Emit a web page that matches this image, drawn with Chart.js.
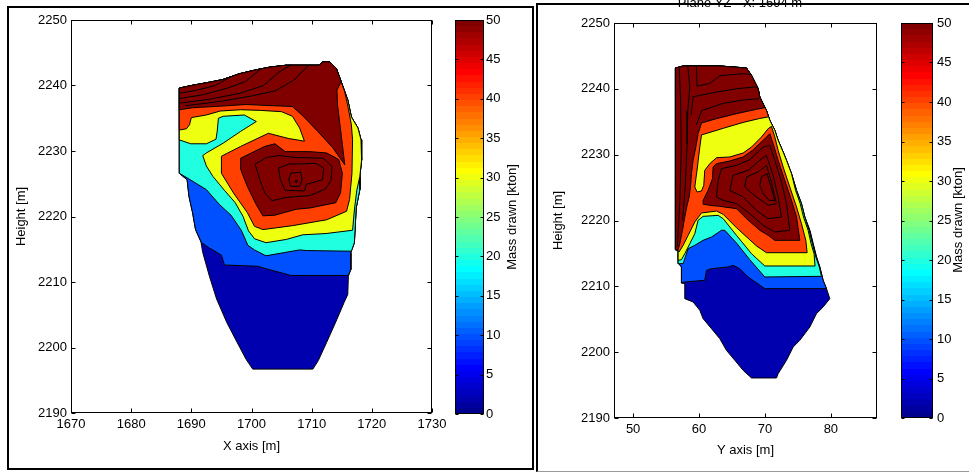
<!DOCTYPE html>
<html><head><meta charset="utf-8">
<script src="https://cdn.jsdelivr.net/npm/chart.js@4.4.1/dist/chart.umd.min.js"></script>
<style>
html,body{margin:0;padding:0;background:#fff;width:969px;height:472px;overflow:hidden;position:relative;}
canvas{position:absolute;top:0;}
.frame{position:absolute;box-sizing:border-box;}
</style></head><body>
<div class="frame" style="left:7px;top:6px;width:527px;height:464px;border:2px solid #000;"></div>
<div class="frame" style="left:536px;top:3px;width:460px;height:469px;border-left:2px solid #000;border-top:2px solid #000;border-bottom:1px solid #999;"></div>
<canvas id="mainL" width="452" height="472" style="left:0px"></canvas>
<canvas id="cbL" width="100" height="472" style="left:440px"></canvas>
<canvas id="mainR" width="370" height="472" style="left:530px"></canvas>
<canvas id="cbR" width="89" height="472" style="left:880px"></canvas>
<script>
// ---------- axis values ----------
const xTicksLeft = [1670,1680,1690,1700,1710,1720,1730];
const xTicksRight = [50,60,70,80];
const yTicks = [2190,2200,2210,2220,2230,2240,2250];
const cbTicks = [0,5,10,15,20,25,30,35,40,45,50];
const xRangeLeft = [1670,1730];
const xRangeRight = [47.1,87.0];
const yRange = [2190,2250];
const cbRange = [0,50];
const contourLevels = [2,10,20,30,40,50,60,70,80,90];
const rightTitle = 'Plane YZ - X: 1694 m';

// ---------- left section (X-Z), contour regions: value >= level ----------
const leftTopEdge = [[1688.0,2239.6],[1690.0,2240.0],[1693.0,2240.5],[1695.2,2240.9],[1698.0,2241.8],[1700.8,2242.4],[1703.0,2242.8],[1705.8,2243.1],[1711.3,2243.1],[1711.8,2243.6],[1713.0,2243.6],[1714.1,2242.6],[1714.9,2240.6]];
const leftRightEdge = [[1716.0,2237.8],[1716.6,2235.2],[1717.7,2233.5],[1718.2,2231.7],[1718.3,2228.6],[1718.0,2226.1]];
const leftLevel0 = [...leftTopEdge, ...leftRightEdge, [1718.0,2224.1],[1717.4,2221.3],[1717.1,2216.0],[1716.5,2214.5],[1716.5,2211.9],[1716.1,2210.9],[1716.0,2208.1],[1715.4,2206.9],[1714.2,2204.3],[1712.5,2200.8],[1711.1,2198.0],[1710.2,2196.7],[1700.2,2196.7],[1699.1,2198.2],[1697.6,2200.8],[1695.9,2203.8],[1694.2,2207.4],[1693.0,2210.9],[1691.9,2214.5],[1691.6,2216.1],[1690.7,2218.0],[1690.2,2220.6],[1689.6,2223.1],[1689.3,2225.6],[1688.0,2226.6]];
const leftLevel10 = [[1691.7,2216.0],[1690.7,2218.0],[1690.2,2220.6],[1689.6,2223.1],[1689.3,2225.6],[1688.0,2226.6], ...leftTopEdge, ...leftRightEdge, [1718.0,2224.1],[1717.4,2221.3],[1717.1,2216.0],[1716.5,2214.5],[1716.5,2211.9],[1716.1,2211.0],[1706.6,2211.0],[1702.5,2212.0],[1701.0,2212.4],[1695.5,2212.6],[1695.0,2214.1],[1693.0,2215.2]];
const leftLevel20 = [[1688.0,2226.6], ...leftTopEdge, ...leftRightEdge, [1718.0,2224.1],[1717.4,2221.3],[1717.1,2216.0],[1716.6,2214.7],[1709.1,2214.8],[1708.0,2214.9],[1702.4,2214.0],[1700.5,2214.9],[1699.4,2215.6],[1698.3,2217.9],[1696.6,2220.2],[1694.7,2221.8],[1692.5,2224.1],[1689.3,2225.9]];
const leftLevel30 = [[1688.0,2231.7], ...leftTopEdge, ...leftRightEdge, [1717.5,2224.0],[1717.1,2221.0],[1716.8,2217.9],[1712.4,2217.4],[1708.5,2217.2],[1705.8,2216.5],[1702.4,2216.0],[1700.5,2216.6],[1699.5,2217.8],[1698.6,2220.0],[1697.3,2222.1],[1695.5,2224.0],[1693.6,2226.1],[1692.5,2227.7],[1691.9,2229.3],[1692.5,2229.7],[1695.3,2231.2],[1698.2,2233.0],[1700.8,2234.5],[1698.8,2235.5],[1695.3,2235.3],[1694.5,2235.0],[1694.3,2233.0],[1694.1,2231.8],[1692.5,2231.1],[1689.9,2231.1]];
const leftLevel40 = [[1688.0,2233.2], ...leftTopEdge, [1715.5,2239.0],[1716.1,2236.5],[1716.6,2234.0],[1716.8,2231.7],[1716.7,2226.6],[1716.3,2222.6],[1715.8,2220.8],[1712.5,2219.5],[1706.8,2218.6],[1701.9,2218.0],[1700.5,2218.5],[1699.3,2220.6],[1697.0,2223.6],[1695.0,2226.6],[1695.0,2229.2],[1698.2,2230.7],[1702.8,2232.7],[1706.2,2231.9],[1708.8,2231.5],[1708.0,2233.5],[1706.8,2235.3],[1705.0,2236.0],[1701.5,2236.2],[1698.2,2236.3],[1694.8,2236.1],[1692.5,2235.5],[1690.0,2235.1],[1689.7,2234.0],[1689.2,2233.4]];
const leftLevel50Top = [[1688.0,2236.3], ...leftTopEdge, [1714.2,2239.3],[1714.3,2237.0],[1714.7,2234.0],[1715.1,2231.0],[1715.5,2227.9],[1713.5,2230.5],[1711.0,2233.0],[1708.6,2235.3],[1706.8,2236.8],[1703.9,2236.9],[1699.1,2237.1],[1695.8,2236.9],[1690.2,2236.6]];
const leftLevel50Core = [[1698.2,2228.9],[1702.2,2230.7],[1703.9,2231.1],[1705.6,2229.9],[1709.7,2229.9],[1712.5,2229.7],[1714.5,2228.7],[1715.1,2226.6],[1714.8,2223.6],[1714.0,2222.1],[1709.7,2221.3],[1707.4,2221.1],[1703.9,2220.2],[1701.9,2220.1],[1700.8,2221.8],[1699.3,2224.6],[1698.2,2227.2]];
const leftLevel60 = [[1700.6,2228.0],[1702.5,2229.0],[1704.5,2229.3],[1707.4,2229.0],[1712.0,2228.9],[1713.4,2227.6],[1713.2,2225.5],[1712.3,2224.2],[1709.7,2223.2],[1705.6,2222.9],[1703.4,2222.4],[1702.2,2223.6],[1701.4,2225.6]];
const leftLevel70 = [[1704.5,2227.4],[1706.2,2228.0],[1710.8,2228.1],[1712.0,2227.4],[1711.8,2225.6],[1709.1,2224.9],[1708.8,2223.9],[1705.6,2224.0],[1704.8,2225.6]];
const leftLevel80 = [[1706.5,2226.6],[1708.2,2226.8],[1708.4,2225.6],[1708.0,2224.6],[1706.5,2224.6],[1706.2,2225.6]];
const leftLevel90 = [[1707.2,2225.4],[1707.6,2225.5],[1707.5,2225.1]];
const leftLine60 = [[1688.0,2238.8],[1691.0,2239.3],[1694.0,2240.0],[1696.5,2241.3]];
const leftLine70 = [[1688.0,2238.0],[1692.0,2238.6],[1696.0,2239.6],[1699.0,2240.6],[1701.5,2242.5]];
const leftLine80 = [[1688.0,2237.3],[1693.0,2237.9],[1698.0,2238.8],[1702.0,2240.0],[1704.5,2242.0],[1706.5,2243.1]];
const leftLine90 = [[1689.0,2236.9],[1695.0,2237.6],[1700.0,2238.4],[1704.0,2239.2],[1707.0,2240.8],[1709.5,2243.1]];

// ---------- right section (Y-Z) ----------
const rightTopEdge = [[56.42,2243.16],[57.59,2243.47],[63.15,2243.47],[67.20,2243.16],[67.96,2242.05],[68.97,2240.03],[69.22,2238.76]];
const rightUpperEdge = [[70.23,2236.73],[70.74,2235.22],[71.50,2233.70],[72.00,2232.18],[72.76,2230.41],[73.27,2229.14],[74.03,2227.11]];
const rightLevel0 = [...rightTopEdge, ...rightUpperEdge, [74.79,2224.58],[75.54,2222.56],[76.05,2220.53],[76.81,2218.51],[77.31,2216.48],[77.82,2214.46],[78.33,2212.94],[78.83,2210.91],[79.34,2209.65],[79.84,2208.13],[78.83,2206.86],[77.82,2205.85],[76.81,2203.82],[76.05,2202.81],[75.29,2201.80],[74.28,2200.78],[73.27,2198.76],[72.00,2196.73],[71.75,2196.08],[67.96,2196.08],[66.69,2197.24],[65.43,2198.76],[64.16,2200.28],[63.15,2202.05],[61.89,2203.57],[60.62,2205.09],[60.12,2206.35],[59.10,2207.62],[57.84,2208.13],[57.84,2210.41],[57.33,2210.51],[57.33,2212.94],[56.93,2213.44],[56.83,2215.47],[56.42,2215.57]];
const rightLevel10 = [[57.33,2210.51],[57.33,2212.94],[56.93,2213.44],[56.83,2215.47],[56.42,2215.57], ...rightTopEdge, ...rightUpperEdge, [74.79,2224.58],[75.54,2222.56],[76.05,2220.53],[76.81,2218.51],[77.31,2216.48],[77.82,2214.46],[78.33,2212.94],[78.83,2210.91],[79.34,2209.65],[69.98,2209.65],[67.45,2211.42],[66.19,2212.68],[65.17,2213.19],[64.42,2212.94],[61.89,2212.68],[61.13,2212.43],[60.87,2210.91],[57.84,2210.66]];
const rightLevel20 = [[56.93,2213.44],[56.83,2215.47],[56.42,2215.57], ...rightTopEdge, ...rightUpperEdge, [74.79,2224.58],[75.54,2222.56],[76.05,2220.53],[76.70,2218.51],[77.20,2216.48],[77.72,2214.46],[78.25,2212.94],[78.58,2211.52],[69.98,2211.42],[67.70,2214.05],[65.68,2216.58],[63.91,2218.51],[63.40,2218.51],[61.89,2217.49],[60.62,2216.99],[59.36,2216.23],[58.35,2215.72],[57.59,2213.44]];
const rightLevel30 = [[56.88,2213.95],[56.83,2215.47],[56.42,2215.57], ...rightTopEdge, ...rightUpperEdge, [74.65,2224.58],[75.35,2222.56],[75.85,2220.53],[76.55,2218.51],[77.00,2216.48],[77.45,2214.96],[77.60,2213.09],[69.98,2213.09],[67.96,2214.96],[65.68,2217.75],[63.66,2220.28],[62.90,2220.78],[60.62,2220.63],[59.86,2220.03],[59.36,2218.00],[58.60,2216.48],[57.84,2214.96],[57.33,2214.05]];
const rightLevel40 = [[56.98,2215.22],[56.83,2215.47],[56.42,2215.57], ...rightTopEdge, [70.23,2236.73],[70.55,2235.75],[69.22,2235.5],[66.69,2234.9],[63.66,2234.0],[60.37,2233.0],[60.12,2231.16],[59.76,2228.13],[59.36,2225.09],[59.71,2224.33],[60.37,2224.48],[60.72,2225.34],[60.87,2227.62],[61.63,2228.63],[62.65,2229.54],[64.67,2229.65],[66.69,2230.25],[67.96,2231.16],[69.47,2232.68],[70.49,2233.95],[70.99,2234.30],[71.50,2232.68],[72.00,2230.66],[72.76,2228.13],[73.77,2225.09],[74.79,2222.05],[75.54,2219.52],[76.20,2216.99],[76.40,2215.11],[70.23,2215.11],[68.72,2216.13],[65.68,2218.91],[63.66,2220.94],[62.65,2221.44],[60.37,2221.14],[59.36,2219.77],[58.35,2217.75],[57.59,2216.23]];
const rightLevel50Left = [[56.42,2215.57], ...rightTopEdge, [69.98,2237.14],[68.72,2236.89],[65.68,2236.23],[62.65,2235.47],[60.37,2234.81],[59.86,2233.19],[59.51,2231.16],[59.10,2229.14],[58.85,2227.11],[58.70,2225.09],[58.50,2223.57],[58.19,2222.30],[57.84,2220.53],[57.49,2218.51],[57.08,2216.48],[56.83,2215.57]];
const rightLevel50Core = [[62.65,2228.63],[64.67,2229.04],[66.69,2229.65],[68.11,2230.66],[69.73,2232.18],[70.74,2233.19],[71.24,2231.67],[72.00,2229.14],[73.01,2226.10],[74.03,2223.06],[74.79,2220.53],[75.29,2216.99],[71.50,2216.99],[70.49,2217.75],[69.22,2218.51],[67.20,2220.28],[65.68,2221.80],[63.15,2222.15],[61.63,2222.30],[60.72,2222.46],[60.62,2223.06],[61.38,2224.58],[62.04,2226.35],[62.14,2228.13]];
const rightLevel60 = [[62.65,2223.57],[62.90,2226.10],[63.40,2227.87],[65.68,2228.38],[67.70,2229.24],[69.73,2231.16],[70.74,2231.42],[71.50,2229.14],[72.51,2225.85],[73.27,2222.56],[73.77,2218.51],[71.50,2218.25],[69.73,2219.27],[67.70,2221.04],[65.68,2222.56],[63.66,2223.06]];
const rightLevel70 = [[64.67,2224.58],[65.17,2226.86],[67.45,2227.62],[69.22,2229.14],[70.23,2229.90],[71.24,2226.86],[72.00,2223.57],[72.51,2220.53],[70.49,2220.28],[68.72,2221.54],[66.69,2223.57]];
const rightLevel80 = [[66.94,2225.09],[67.20,2226.61],[68.97,2227.37],[70.23,2228.38],[70.99,2225.85],[71.75,2222.56],[70.49,2222.30],[68.72,2223.57]];
const rightLevel90 = [[69.22,2225.34],[69.47,2226.61],[70.33,2227.11],[70.84,2225.34],[71.50,2223.06],[70.64,2223.06],[69.73,2224.08]];
const rightLineA = [[57.0,2243.2],[57.2,2238.3],[57.3,2230.7],[57.1,2223.0],[56.7,2216.0]];
const rightLineB = [[58.3,2243.4],[58.6,2240.3],[58.3,2236.7],[58.2,2231.7],[57.9,2225.1],[57.5,2220.0]];
const rightLineC = [[59.6,2243.4],[59.7,2240.4],[61.6,2240.8],[63.2,2242.0],[66.7,2242.3],[67.8,2242.2]];
const rightLineD = [[58.8,2236.0],[59.1,2238.8],[62.6,2239.5],[65.7,2240.0],[68.5,2240.3],[68.95,2240.1]];
const rightLineE = [[59.6,2234.5],[60.4,2236.7],[63.7,2237.8],[66.7,2238.3],[69.1,2238.5]];

// ---------- colour map (MATLAB jet, 64 steps) ----------
function jet64(k){ const i=k+1; let r,g,b;
  r = i<=24?0 : i<=40?(i-24)/16 : i<=56?1 : (72-i)/16;
  g = i<=8?0 : i<=24?(i-8)/16 : i<=40?1 : i<=55?(56-i)/16 : 0;
  b = i<=8?(i+8)/16 : i<=24?1 : i<=39?(40-i)/16 : 0;
  return `rgb(${Math.round(r*255)},${Math.round(g*255)},${Math.round(b*255)})`; }
function levelColor(v){ const k=Math.min(63,Math.max(0,Math.floor((v-cbRange[0])/(cbRange[1]-cbRange[0])*64))); return jet64(k); }

// ---------- dataset builders ----------
function toPts(a, close){ const d=a.map(p=>({x:p[0],y:p[1]})); if(close) d.push({x:a[0][0],y:a[0][1]}); return d; }
function buildDatasets(regions, lines){
  const ds=[]; let n=0; const total=regions.length+lines.length;
  regions.forEach(([poly,lvl])=>{ ds.push({data:toPts(poly,true), fill:'shape', backgroundColor:levelColor(lvl), borderColor:'#000', borderWidth:1, pointRadius:0, tension:0, order: total-(n++)}); });
  lines.forEach(l=>{ ds.push({data:toPts(l,false), fill:false, borderColor:'#000', borderWidth:1, pointRadius:0, tension:0, order: total-(n++)}); });
  return ds;
}
const [c0,c10,c20,c30,c40,c50,c60,c70,c80,c90] = contourLevels;
const leftRegions = [[leftLevel0,c0],[leftLevel10,c10],[leftLevel20,c20],[leftLevel30,c30],[leftLevel40,c40],[leftLevel50Top,c50],[leftLevel50Core,c50],[leftLevel60,c60],[leftLevel70,c70],[leftLevel80,c80],[leftLevel90,c90]];
const leftLines = [leftLine60,leftLine70,leftLine80,leftLine90];
const rightRegions = [[rightLevel0,c0],[rightLevel10,c10],[rightLevel20,c20],[rightLevel30,c30],[rightLevel40,c40],[rightLevel50Left,c50],[rightLevel50Core,c50],[rightLevel60,c60],[rightLevel70,c70],[rightLevel80,c80],[rightLevel90,c90]];
const rightLines = [rightLineA,rightLineB,rightLineC,rightLineD,rightLineE];

// ---------- plugins ----------
const matlabBox = { id:'matlabBox', afterDatasetsDraw(chart, args, o){
  const {ctx, chartArea:a} = chart; const len=o.len||4;
  ctx.save(); ctx.strokeStyle='#000'; ctx.lineWidth=1;
  const L=Math.round(a.left)+0.5, R=Math.round(a.right)-0.5, T=Math.round(a.top)+0.5, B=Math.round(a.bottom)-0.5;
  ctx.beginPath();
  (o.x||[]).forEach(id=>{ const s=chart.scales[id]; s.ticks.forEach(t=>{ const p=Math.round(s.getPixelForValue(t.value))+0.5; ctx.moveTo(p,B); ctx.lineTo(p,B-len); ctx.moveTo(p,T); ctx.lineTo(p,T+len); }); });
  (o.y||[]).forEach(id=>{ const s=chart.scales[id]; s.ticks.forEach(t=>{ const p=Math.round(s.getPixelForValue(t.value))+0.5; ctx.moveTo(L,p); ctx.lineTo(L+len,p); ctx.moveTo(R,p); ctx.lineTo(R-len,p); }); });
  ctx.stroke();
  ctx.strokeRect(L,T,R-L,B-T);
  ctx.restore(); } };
const extraText = { id:'extraText', afterDraw(chart, args, o){
  const ctx=chart.ctx; (o.items||[]).forEach(t=>{ ctx.save(); ctx.translate(t.x,t.y); ctx.rotate(t.rot||0);
    ctx.font='13px "Liberation Sans", Arial, sans-serif'; ctx.fillStyle='#000'; ctx.textAlign='center'; ctx.textBaseline=t.base||'middle';
    ctx.fillText(t.text,0,0); ctx.restore(); }); } };

Chart.defaults.font.family = '"Liberation Sans", Arial, Helvetica, sans-serif';
Chart.defaults.font.size = 13;
Chart.defaults.color = '#000';

function mainChart(id, regions, lines, xRange, xTicks, xTitle, pad, yW, xH, yTitlePad, xTitlePad, items){
  return new Chart(document.getElementById(id), {
    type:'line',
    data:{datasets: buildDatasets(regions, lines)},
    options:{ responsive:false, animation:false, events:[],
      layout:{padding:pad},
      plugins:{legend:{display:false}, tooltip:{enabled:false}, matlabBox:{x:['x'],y:['y'],len:4}, extraText:{items}},
      scales:{
        x:{type:'linear', min:xRange[0], max:xRange[1],
           afterBuildTicks:s=>{ s.ticks = xTicks.map(v=>({value:v})); }, afterFit:s=>{ s.height=xH; },
           grid:{display:false, drawTicks:false}, border:{display:false},
           ticks:{padding:4, maxRotation:0, autoSkip:false, color:'#000', callback:v=>String(v)},
           title:{display:true, text:xTitle, color:'#000', padding:{top:0,bottom:xTitlePad}}},
        y:{type:'linear', min:yRange[0], max:yRange[1],
           afterBuildTicks:s=>{ s.ticks = yTicks.map(v=>({value:v})); }, afterFit:s=>{ s.width=yW; },
           grid:{display:false, drawTicks:false}, border:{display:false},
           ticks:{padding:4, autoSkip:false, color:'#000', callback:v=>String(v)},
           title:{display:true, text:'Height [m]', color:'#000', padding:{top:yTitlePad,bottom:0}}}
      } },
    plugins:[matlabBox, extraText]
  });
}
function colorBar(id, pad, axW, tickPad, items){
  return new Chart(document.getElementById(id), {
    type:'bar',
    data:{labels:[''], datasets:[{data:[[cbRange[0],cbRange[1]]], borderWidth:0, barPercentage:1, categoryPercentage:1,
      backgroundColor:(c)=>{ const ch=c.chart, a=ch.chartArea; if(!a) return '#000';
        const g=ch.ctx.createLinearGradient(0,a.bottom,0,a.top);
        for(let k=0;k<64;k++){ g.addColorStop(k/64, jet64(k)); g.addColorStop(Math.min(1,(k+1)/64-1e-4), jet64(k)); }
        return g; } }]},
    options:{ responsive:false, animation:false, events:[],
      layout:{padding:pad},
      plugins:{legend:{display:false}, tooltip:{enabled:false}, matlabBox:{y:['y'],len:3}, extraText:{items}},
      scales:{
        x:{display:false},
        y:{position:'right', min:cbRange[0], max:cbRange[1],
           afterBuildTicks:s=>{ s.ticks = cbTicks.map(v=>({value:v})); }, afterFit:s=>{ s.width=axW; },
           grid:{display:false, drawTicks:false}, border:{display:false},
           ticks:{padding:tickPad, autoSkip:false, color:'#000', callback:v=>String(v)}}
      } },
    plugins:[matlabBox, extraText]
  });
}

mainChart('mainL', leftRegions, leftLines, xRangeLeft, xTicksLeft, 'X axis [m]',
  {left:10, top:20, right:20, bottom:14}, 61, 45, 4, 4, []);
colorBar('cbL', {left:15, top:20, right:16, bottom:58}, 40, 2,
  [{text:'Mass drawn [kton]', x:72, y:217, rot:-Math.PI/2}]);
mainChart('mainR', rightRegions, rightLines, xRangeRight, xTicksRight, 'Y axis [m]',
  {left:10, top:23, right:23, bottom:9}, 74, 45, 11, 5, [{text:rightTitle, x:210, y:7, base:'alphabetic'}]);
colorBar('cbR', {left:21, top:23, right:6, bottom:54}, 30, 4,
  [{text:'Mass drawn [kton]', x:78, y:220, rot:-Math.PI/2}]);
</script>
</body></html>
